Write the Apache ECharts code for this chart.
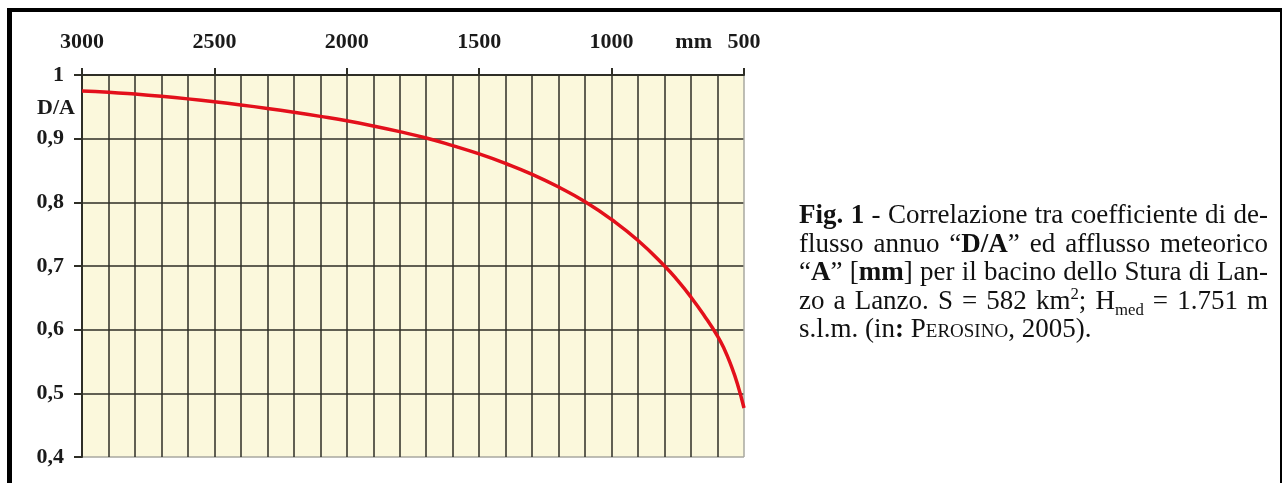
<!DOCTYPE html>
<html>
<head>
<meta charset="utf-8">
<script src="https://cdn.jsdelivr.net/npm/echarts@6/dist/echarts.min.js"></script>
<style>
html,body{margin:0;padding:0;background:#fff;width:1282px;height:483px;overflow:hidden}
#chart{position:absolute;left:0;top:0;width:1282px;height:483px}
#frame{position:absolute;left:7px;top:8px;width:1275px;height:490px;border-left:5px solid #000;border-top:4px solid #000;border-right:2px solid #000;box-sizing:border-box;pointer-events:none}
#cap{position:absolute;left:799px;top:200px;width:469px;font-family:"Liberation Serif","Times New Roman",serif;font-size:27px;line-height:28.5px;color:#111}
#cap .j{text-align:justify;text-align-last:justify;white-space:nowrap}
#cap sup,#cap sub{font-size:0.62em;line-height:0}
#cap .sc{font-variant:small-caps}
</style>
</head>
<body>
<div id="chart"></div>
<div id="frame"></div>
<div id="cap">
<div class="j"><b>Fig. 1</b> - Correlazione tra coefficiente di de-</div>
<div class="j">flusso annuo “<b>D/A</b>” ed afflusso meteorico</div>
<div class="j">“<b>A</b>” [<b>mm</b>] per il bacino dello Stura di Lan-</div>
<div class="j">zo a Lanzo. S = 582 km<sup>2</sup>; H<sub>med</sub> = 1.751 m</div>
<div>s.l.m. (in<b>:</b> P<span class="sc">erosino</span>, 2005).</div>
</div>
<script>
// Data
const rainfallMm = [3000, 2900, 2800, 2700, 2600, 2500, 2400, 2300, 2200, 2100, 2000, 1900, 1800, 1700, 1600, 1500, 1400, 1300, 1200, 1100, 1000, 900, 800, 750, 700, 650, 600, 575, 550, 525, 500];
const runoffRatio = [0.975, 0.973, 0.970, 0.9665, 0.9625, 0.958, 0.953, 0.9475, 0.9415, 0.935, 0.928, 0.920, 0.911, 0.901, 0.889, 0.876, 0.861, 0.844, 0.824, 0.801, 0.773, 0.740, 0.700, 0.677, 0.651, 0.622, 0.590, 0.570, 0.545, 0.515, 0.477];
const xTickLabels = ['3000', '2500', '2000', '1500', '1000', '500'];
const yTickLabels = ['0,4', '0,5', '0,6', '0,7', '0,8', '0,9', '1'];
const xUnitLabel = 'mm';
const xUnitPos = 690;
const yName = 'D/A';
const yNamePos = 0.948;

const chart = echarts.init(document.getElementById('chart'), null, {renderer: 'canvas'});
const labelFont = {fontFamily: 'Liberation Serif', fontWeight: 'bold', fontSize: 22, color: '#1a1a1a'};
const dark = '#2e2e26';
const light = '#a8a8a0';
const xLineColors = [light].concat(new Array(30).fill(dark));
const yLineColors = [light].concat(new Array(10).fill(dark));

const option = {
  animation: false,
  grid: {left: 82, top: 75, width: 662, height: 382, show: true, backgroundColor: '#fbf8dc', borderWidth: 0},
  xAxis: [
    {
      type: 'value', position: 'top', inverse: true, min: 500, max: 3000, interval: 500,
      axisLine: {show: true, onZero: false, lineStyle: {color: dark, width: 2}},
      axisTick: {show: true, inside: false, length: 7, lineStyle: {color: dark, width: 2}},
      axisLabel: Object.assign({show: true, margin: 22, showMinLabel: true, showMaxLabel: true,
        formatter: v => xTickLabels.find(s => +s === Math.round(v)) || ''}, labelFont),
      splitLine: {show: false}
    },
    {
      type: 'value', position: 'bottom', inverse: true, min: 500, max: 3000, interval: 100,
      axisLine: {show: false}, axisTick: {show: false}, axisLabel: {show: false},
      splitLine: {show: true, lineStyle: {color: xLineColors, width: 1.5}}
    }
  ],
  yAxis: {
    type: 'value', min: 0.4, max: 1, interval: 0.1,
    axisLine: {show: true, onZero: false, lineStyle: {color: dark, width: 2}},
    axisTick: {show: true, inside: false, length: 8, lineStyle: {color: dark, width: 2}},
    axisLabel: Object.assign({margin: 18, showMinLabel: true, showMaxLabel: true,
      formatter: v => yTickLabels[Math.round((v - 0.4) * 10)]}, labelFont),
    splitLine: {show: true, lineStyle: {color: yLineColors, width: 1.5}}
  },
  series: [{
    type: 'line', xAxisIndex: 0, yAxisIndex: 0,
    data: rainfallMm.map((x, i) => [x, runoffRatio[i]]),
    smooth: 0.5, showSymbol: false, symbol: 'none',
    lineStyle: {color: '#e3101b', width: 3.5}
  }]
};
chart.setOption(option);

const topY = chart.convertToPixel({yAxisIndex: 0}, 1);
const leftX = chart.convertToPixel({xAxisIndex: 0}, 3000);
chart.setOption({
  graphic: [
    {type: 'text', x: chart.convertToPixel({xAxisIndex: 0}, xUnitPos), y: topY - 22,
     style: {text: xUnitLabel, font: 'bold 22px "Liberation Serif"', fill: '#1a1a1a', align: 'center', verticalAlign: 'bottom'}},
    {type: 'text', x: leftX - 7, y: chart.convertToPixel({yAxisIndex: 0}, yNamePos),
     style: {text: yName, font: 'bold 22px "Liberation Serif"', fill: '#1a1a1a', align: 'right', verticalAlign: 'middle'}}
  ]
});
</script>
</body>
</html>
